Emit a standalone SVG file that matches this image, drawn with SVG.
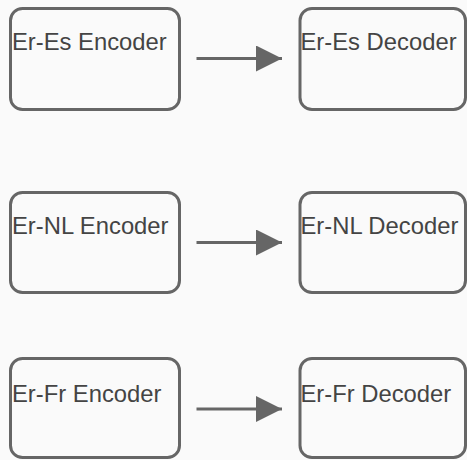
<svg xmlns="http://www.w3.org/2000/svg" width="467" height="460" viewBox="0 0 467 460">
  <defs>
    <style>
      .box { fill: #fafafa; stroke: #666666; stroke-width: 3; }
      .lbl { font-family: "Liberation Sans", Arial, sans-serif; font-size: 23.8px; fill: #444444; }
      .edge { stroke: #666666; stroke-width: 3; fill: none; }
    </style>
    <marker id="arrow" markerUnits="userSpaceOnUse" markerWidth="27" markerHeight="27" refX="26" refY="13" orient="auto">
      <polygon points="0,0 26,13 0,26" fill="#666666"/>
    </marker>
  </defs>
  <rect x="0" y="0" width="467" height="460" fill="#fafafa"/>

  <g id="er-es-encoder">
    <rect class="box" x="10.5" y="8.5" width="169" height="101" rx="12"/>
    <text class="lbl" x="12" y="50">Er-Es Encoder</text>
  </g>
  <g id="er-es-decoder">
    <rect class="box" x="300" y="8.5" width="165.5" height="101" rx="12"/>
    <text class="lbl" x="300.5" y="50">Er-Es Decoder</text>
  </g>

  <g id="er-nl-encoder">
    <rect class="box" x="10.5" y="192.5" width="169" height="100" rx="12"/>
    <text class="lbl" x="12" y="233.5">Er-NL Encoder</text>
  </g>
  <g id="er-nl-decoder">
    <rect class="box" x="300" y="192.5" width="165.5" height="100" rx="12"/>
    <text class="lbl" x="300.5" y="233.5">Er-NL Decoder</text>
  </g>

  <g id="er-fr-encoder">
    <rect class="box" x="10.5" y="358.5" width="169" height="99" rx="12"/>
    <text class="lbl" x="12" y="401.5">Er-Fr Encoder</text>
  </g>
  <g id="er-fr-decoder">
    <rect class="box" x="300" y="358.5" width="165.5" height="99" rx="12"/>
    <text class="lbl" x="300.5" y="401.5">Er-Fr Decoder</text>
  </g>

  <g id="connectors">
    <line class="edge" x1="196.5" y1="58.5" x2="282" y2="58.5" marker-end="url(#arrow)"/>
    <line class="edge" x1="196.5" y1="242.5" x2="282" y2="242.5" marker-end="url(#arrow)"/>
    <line class="edge" x1="196.5" y1="409" x2="282" y2="409" marker-end="url(#arrow)"/>
  </g>
</svg>
